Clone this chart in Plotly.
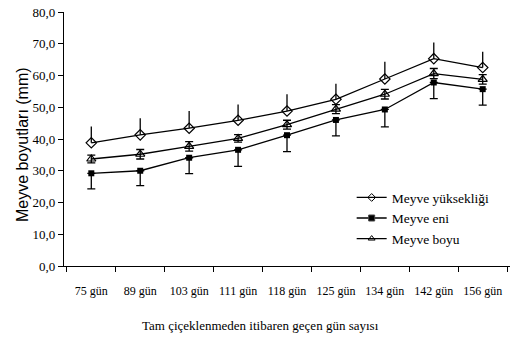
import plotly.graph_objects as go

days = ["75 gün", "89 gün", "103 gün", "111 gün", "118 gün", "125 gün", "134 gün", "142 gün", "156 gün"]
yukseklik = [38.8, 41.3, 43.4, 45.9, 48.8, 52.5, 58.9, 65.3, 62.5]
yukseklik_err = [5.1, 5.2, 5.4, 5.0, 5.3, 4.9, 5.4, 5.1, 5.0]
eni = [29.2, 30.0, 34.1, 36.6, 41.2, 46.0, 49.3, 57.8, 55.7]
eni_err = [4.9, 4.7, 5.0, 5.2, 5.2, 5.0, 5.5, 5.1, 5.0]
boyu = [33.7, 35.2, 37.7, 40.2, 44.5, 49.4, 54.1, 60.6, 58.8]
boyu_err = [1.2, 1.5, 1.5, 1.2, 1.4, 1.4, 1.5, 1.6, 1.5]
series_names = ["Meyve yüksekliği", "Meyve eni", "Meyve boyu"]

font_family = "Liberation Serif"
line_style = dict(color="black", width=1.3)
symbols = ["diamond-open", "square", "triangle-up-open"]
fig = go.Figure()

fig.add_trace(go.Scatter(
    x=days, y=yukseklik, name=series_names[0], mode="lines+markers", showlegend=False,
    line=line_style,
    marker=dict(symbol=symbols[0], size=8, color="black", line=dict(width=1.2)),
    error_y=dict(type="data", array=yukseklik_err, arrayminus=[0]*9, symmetric=False,
                 color="black", thickness=1.3, width=0),
))
fig.add_trace(go.Scatter(
    x=days, y=eni, name=series_names[1], mode="lines+markers", showlegend=False,
    line=line_style,
    marker=dict(symbol=symbols[1], size=6, color="black"),
    error_y=dict(type="data", array=[0]*9, arrayminus=eni_err, symmetric=False,
                 color="black", thickness=1.3, width=4),
))
fig.add_trace(go.Scatter(
    x=days, y=boyu, name=series_names[2], mode="lines+markers", showlegend=False,
    line=line_style,
    marker=dict(symbol=symbols[2], size=8, color="black", line=dict(width=1.2)),
    error_y=dict(type="data", array=boyu_err, symmetric=True,
                 color="black", thickness=1.3, width=4),
))
# legend entries with the smaller legend markers
for name, sym in zip(series_names, symbols):
    fig.add_trace(go.Scatter(
        x=[None], y=[None], name=name, mode="lines+markers", showlegend=True,
        line=line_style,
        marker=dict(symbol=sym, size=6, color="black", line=dict(width=1)),
    ))

fig.update_layout(
    width=510, height=341,
    margin=dict(l=64, r=0, t=12, b=75),
    paper_bgcolor="white", plot_bgcolor="white",
    font=dict(family=font_family, size=13, color="black"),
    showlegend=True,
    legend=dict(x=0.645, y=0.33, xanchor="left", yanchor="top",
                bgcolor="rgba(0,0,0,0)", font=dict(family=font_family, size=13.5),
                tracegroupgap=0, itemwidth=30),
    xaxis=dict(
        type="category", tickson="boundaries", ticks="outside", ticklen=5,
        tickcolor="black", showline=True, linecolor="black", linewidth=1.3,
        showgrid=False, tickfont=dict(family=font_family, size=12), tickangle=0,
        ticklabelstandoff=13,
    ),
    yaxis=dict(
        range=[0, 80], dtick=10, tickformat=".1f", ticks="outside", ticklen=5,
        tickcolor="black", showline=True, linecolor="black", linewidth=1.3,
        showgrid=False, zeroline=False, tickfont=dict(family=font_family, size=13),
    ),
    annotations=[
        dict(
            text="Tam çiçeklenmeden itibaren geçen gün sayısı", xref="paper", yref="paper",
            x=0.44, y=-0.235, xanchor="center", yanchor="middle", showarrow=False,
            font=dict(family=font_family, size=13),
        ),
        dict(
            text="Meyve boyutları (mm)", xref="paper", yref="paper",
            x=0, xshift=-42, y=0.476, xanchor="center", yanchor="middle",
            textangle=-90, showarrow=False,
            font=dict(family="Liberation Sans", size=16),
        ),
    ],
    separators=",.",
)

fig.write_html("out.html")
